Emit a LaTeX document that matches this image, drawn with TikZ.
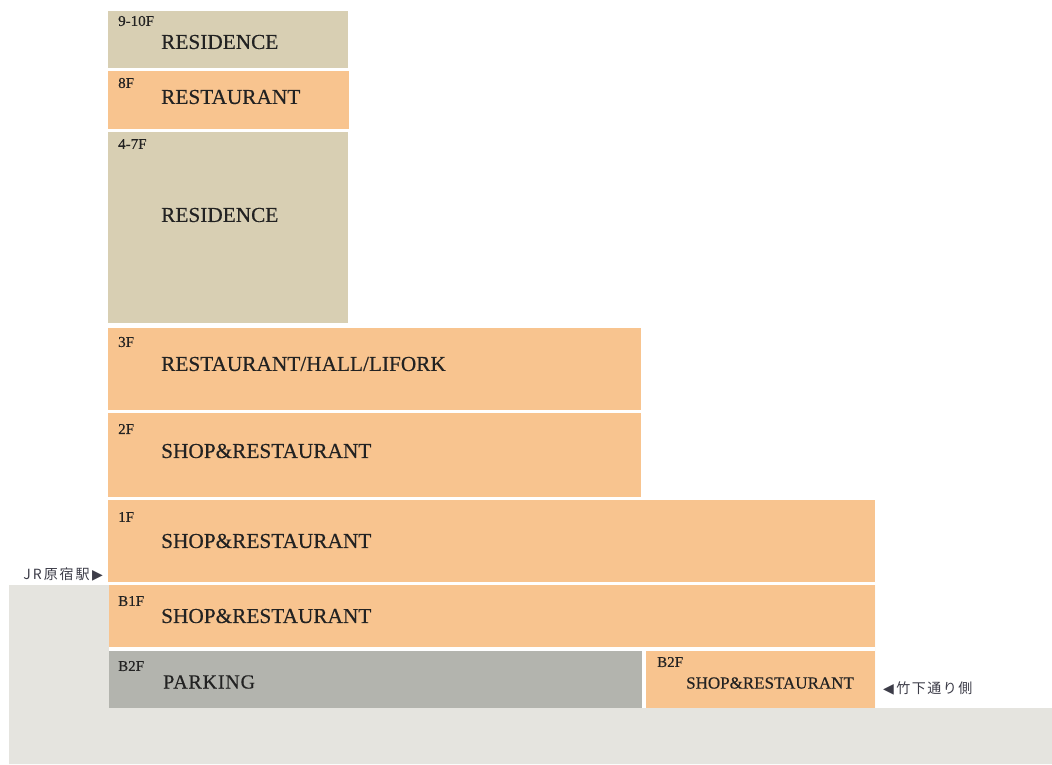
\documentclass[tikz,border=0pt]{standalone}
\usepackage{fontspec}
\setmainfont{Liberation Serif}[FakeBold=0.4]
\newfontfamily\cjk{Noto Sans CJK JP}
\newfontfamily\symfont{DejaVu Sans}
\definecolor{beige}{HTML}{D8CFB3}
\definecolor{orng}{HTML}{F8C48F}
\definecolor{park}{HTML}{B3B4AE}
\definecolor{ground}{HTML}{E5E4DF}
\definecolor{ink}{HTML}{222222}
\definecolor{sign}{HTML}{3C3C48}
\begin{document}
\begin{tikzpicture}[x=1pt,y=-1pt,
  floorbox/.style={draw=none,anchor=north west,inner sep=0pt,outer sep=0pt},
  flabel/.style={anchor=west,inner sep=0pt,text=ink,font=\fontsize{15}{17}\selectfont},
  mlabel/.style={anchor=west,inner sep=0pt,text=ink,font=\fontsize{21.3}{24}\selectfont},
  signlabel/.style={anchor=west,inner sep=0pt,text=sign,font=\fontsize{14}{16}\selectfont}]
\useasboundingbox (0,0) rectangle (1052,764);
% ground
\fill[ground] (9,585) -- (875,585) -- (875,708) -- (1052,708) -- (1052,764) -- (9,764) -- cycle;
% building footprint below street level (white gaps)
\fill[white] (108.5,583) rectangle (875,708);
% floors
\node[floorbox,fill=beige,minimum width=240pt,minimum height=57pt] (f910) at (108,11) {};
\node[floorbox,fill=orng,minimum width=241pt,minimum height=58pt] (f8) at (108,71) {};
\node[floorbox,fill=beige,minimum width=240pt,minimum height=191pt] (f47) at (108,132) {};
\node[floorbox,fill=orng,minimum width=533pt,minimum height=82pt] (f3) at (108,328) {};
\node[floorbox,fill=orng,minimum width=533pt,minimum height=84pt] (f2) at (108,413) {};
\node[floorbox,fill=orng,minimum width=767pt,minimum height=82pt] (f1) at (108,500) {};
\node[floorbox,fill=orng,minimum width=766pt,minimum height=62pt] (fb1) at (109,585) {};
\node[floorbox,fill=park,minimum width=533pt,minimum height=57pt] (fb2p) at (109,651) {};
\node[floorbox,fill=orng,minimum width=229pt,minimum height=57pt] (fb2s) at (646,651) {};
% labels
\node[flabel] (l910) at (118,21) {9-10F};
\node[mlabel] (m910) at (161,42) {RESIDENCE};
\node[flabel] (l8) at (118,83) {8F};
\node[mlabel] (m8) at (161,97) {RESTAURANT};
\node[flabel] (l47) at (118,144) {4-7F};
\node[mlabel] (m47) at (161,215) {RESIDENCE};
\node[flabel] (l3) at (118,342) {3F};
\node[mlabel] (m3) at (161,364) {RESTAURANT/HALL/LIFORK};
\node[flabel] (l2) at (118,429) {2F};
\node[mlabel] (m2) at (161,451) {SHOP\&RESTAURANT};
\node[flabel] (l1) at (118,517) {1F};
\node[mlabel] (m1) at (161,541) {SHOP\&RESTAURANT};
\node[flabel] (lb1) at (118,601) {B1F};
\node[mlabel] (mb1) at (161,616) {SHOP\&RESTAURANT};
\node[flabel] (lb2) at (118,666) {B2F};
\node[mlabel,font=\fontsize{20}{24}\selectfont\addfontfeature{LetterSpace=4}] (mb2) at (163,682) {PARKING};
\node[flabel] (lb2s) at (657,662) {B2F};
\node[mlabel,font=\fontsize{17}{20}\selectfont] (mb2s) at (686,683) {SHOP\&RESTAURANT};
% signs
\node[signlabel,anchor=east] (jr) at (103,574) {\cjk\addfontfeature{LetterSpace=14}JR原宿駅\,\symfont ▶};
\node[signlabel] (tk) at (883,688) {\symfont ◀\,\cjk\addfontfeature{LetterSpace=11}竹下通り側};
\end{tikzpicture}
\end{document}
